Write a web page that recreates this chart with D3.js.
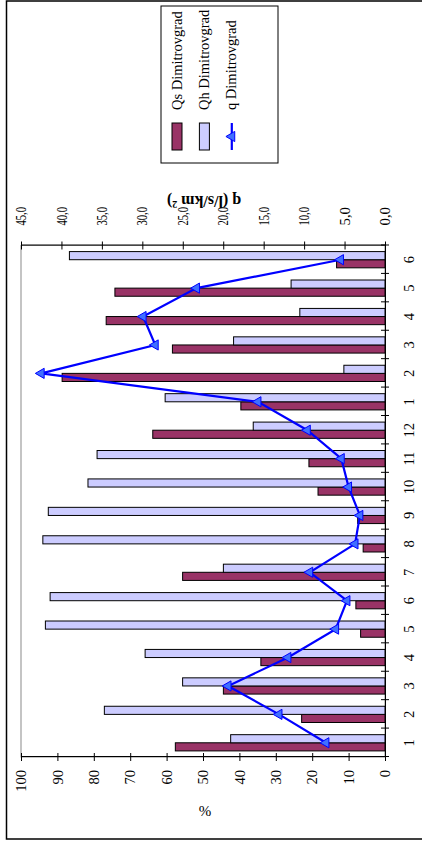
<!DOCTYPE html>
<html><head><meta charset="utf-8">
<script src="https://cdn.jsdelivr.net/npm/d3@7"></script>
<style>html,body{margin:0;padding:0;background:#fff;} svg{display:block;}</style>
</head><body>
<svg id="c" width="422" height="845"></svg>
<script>
const categories = ["1","2","3","4","5","6","7","8","9","10","11","12","1","2","3","4","5","6"];
const qsValues = [57.6,22.9,44.4,34.1,6.7,8.0,55.6,6.0,7.5,18.4,20.9,63.8,39.6,88.7,58.4,76.6,74.2,13.3];
const qhValues = [42.4,77.1,55.6,65.9,93.3,92.0,44.4,94.0,92.5,81.6,79.1,36.2,60.4,11.3,41.6,23.4,25.8,86.7];
const qValues  = [7.3,13.1,19.4,12.0,6.1,4.7,9.3,3.7,3.1,4.5,5.4,9.6,15.7,42.5,28.4,29.9,23.3,5.5];
const percentTicks = [0,10,20,30,40,50,60,70,80,90,100];
const qTicks = [0,5,10,15,20,25,30,35,40,45];
const seriesNames = ["Qs Dimitrovgrad","Qh Dimitrovgrad","q Dimitrovgrad"];
const colors = {Qs:"#993366", Qh:"#CCCCFF", q:"#0000FF", marker:"#3F6FFF"};

const FONT = "'Liberation Serif','Times New Roman',serif";
const svg = d3.select("#c");
svg.append("rect").attr("width",422).attr("height",845).attr("fill","#fff");
// chart drawn in its original landscape orientation, rotated -90deg
const g = svg.append("g").attr("transform","translate(0,845) rotate(-90)")
  .style("font-family",FONT).style("font-size","14px");

g.append("rect").attr("x",6).attr("y",6.5).attr("width",838).attr("height",440)
  .attr("fill","none").attr("stroke","#000").attr("stroke-width",1.5);

const L=88, R=599.5, T=21, B=385;
const x = d3.scaleBand().domain(d3.range(categories.length)).range([L,R]).paddingInner(0).paddingOuter(0);
const xs = d3.scaleBand().domain(["Qs","Qh"]).range([0,x.bandwidth()]).paddingInner(0).paddingOuter(0.75);
const y = d3.scaleLinear().domain([0,100]).range([B,T]);
const yq = d3.scaleLinear().domain([0,45]).range([B,T]);
const xb = d3.scaleLinear().domain([0,categories.length]).range([L,R]);

g.append("rect").attr("x",L).attr("y",T).attr("width",R-L).attr("height",B-T)
  .attr("fill","none").attr("stroke","#8a8a8a").attr("stroke-width",1);

// bars
const bars = [{key:"Qs", vals:qsValues},{key:"Qh", vals:qhValues}];
bars.forEach(s=>{
  g.append("g").selectAll("rect").data(s.vals).join("rect")
    .attr("x",(d,i)=>x(i)+xs(s.key))
    .attr("y",d=>y(d))
    .attr("width",xs.bandwidth())
    .attr("height",d=>B-y(d))
    .attr("fill",colors[s.key]).attr("stroke","#000").attr("stroke-width",1);
});

// axes
const ax = g.append("g").attr("transform",`translate(${L},0)`)
  .call(d3.axisLeft(y).tickValues(percentTicks).tickSize(8).tickSizeOuter(0));
ax.selectAll(".tick line").attr("x1",4).attr("x2",-4);
ax.selectAll(".tick text").attr("x",-13).style("font-size","14.5px").style("font-family",FONT);

const aq = g.append("g").attr("transform",`translate(${R},0)`)
  .call(d3.axisRight(yq).tickValues(qTicks).tickSize(8).tickSizeOuter(0)
    .tickFormat(d=>d3.format(".1f")(d).replace(".",",")));
aq.selectAll(".tick line").attr("x1",-4).attr("x2",4);
aq.selectAll(".tick text").attr("x",20).attr("textLength",18.5).attr("lengthAdjust","spacingAndGlyphs")
  .style("font-size","14.5px").style("font-family",FONT);

const abx = g.append("g").attr("transform",`translate(0,${B})`)
  .call(d3.axisBottom(xb).tickValues(d3.range(categories.length+1)).tickFormat("").tickSize(8).tickSizeOuter(0));
abx.selectAll(".tick line").attr("y1",-4).attr("y2",4);

const abl = g.append("g").attr("transform",`translate(0,${B})`)
  .call(d3.axisBottom(x).tickFormat(i=>categories[i]).tickSize(0));
abl.select(".domain").remove();
abl.selectAll(".tick text").attr("y",28.5).attr("dy","0").style("font-size","14.5px").style("font-family",FONT);

g.selectAll(".domain").attr("stroke","#000");

// line + markers
const line = d3.line().x((d,i)=>x(i)+x.bandwidth()/2).y(d=>yq(d));
g.append("path").datum(qValues).attr("d",line).attr("fill","none")
  .attr("stroke",colors.q).attr("stroke-width",2.2);
const tri = d3.symbol(d3.symbolTriangle,45);
g.append("g").selectAll("path").data(qValues).join("path")
  .attr("transform",(d,i)=>`translate(${x(i)+x.bandwidth()/2},${yq(d)})`)
  .attr("d",tri).attr("fill",colors.marker).attr("stroke",colors.q).attr("stroke-width",1);

// axis titles
const qt = g.append("text").attr("transform","translate(649,204) rotate(-90)")
  .attr("text-anchor","middle").style("font-weight","bold").style("font-size","16px");
qt.append("tspan").text("q (l/s/km  ");
qt.append("tspan").attr("baseline-shift","super").style("font-size","10px").text("2");
qt.append("tspan").text(")");
g.append("text").attr("transform","translate(39,205) rotate(-90)")
  .attr("text-anchor","middle").style("font-size","15px").text("%");

// legend
const lg = g.append("g");
lg.append("rect").attr("x",682).attr("y",161).attr("width",157).attr("height",117)
  .attr("fill","#fff").attr("stroke","#000").attr("stroke-width",1);
seriesNames.forEach((name,i)=>{
  const cy = 177 + i*27.4;
  if(i<2){
    lg.append("rect").attr("x",695).attr("y",cy-5).attr("width",27).attr("height",10)
      .attr("fill",i===0?colors.Qs:colors.Qh).attr("stroke","#000").attr("stroke-width",1);
  } else {
    lg.append("line").attr("x1",695).attr("x2",722).attr("y1",cy).attr("y2",cy)
      .attr("stroke",colors.q).attr("stroke-width",2.2);
    lg.append("path").attr("transform",`translate(708.5,${cy})`).attr("d",tri)
      .attr("fill",colors.marker).attr("stroke",colors.q);
  }
  lg.append("text").attr("x",735).attr("y",cy+4.5).style("font-size","14.5px").text(name);
});
</script>
</body></html>
